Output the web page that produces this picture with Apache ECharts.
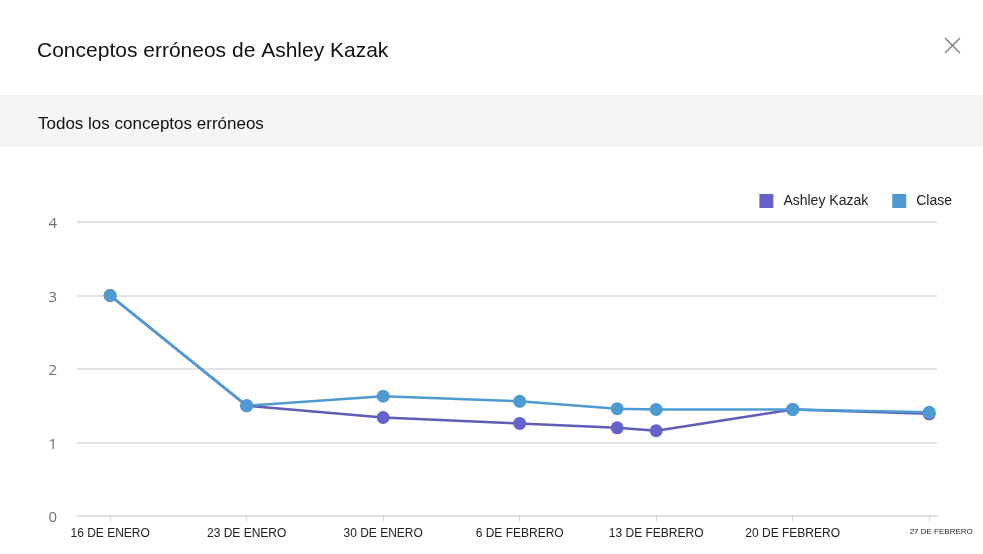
<!DOCTYPE html>
<html>
<head>
<meta charset="utf-8">
<script src="https://cdn.jsdelivr.net/npm/echarts@6/dist/echarts.min.js"></script>
<style>
  html, body { margin: 0; padding: 0; background: #fff; }
  #chart { width: 983px; height: 554px; }
</style>
</head>
<body>
<div id="chart"></div>
<script>
// datos
var fechas = ['2019-01-16', '2019-01-23', '2019-01-30', '2019-02-06', '2019-02-11', '2019-02-13', '2019-02-20', '2019-02-27'];
var ashley = [3.0, 1.5, 1.34, 1.26, 1.20, 1.16, 1.45, 1.39];
var clase = [3.0, 1.5, 1.63, 1.56, 1.46, 1.45, 1.45, 1.41];
var tickFechas = ['2019-01-16', '2019-01-23', '2019-01-30', '2019-02-06', '2019-02-13', '2019-02-20', '2019-02-27'];
var tickLabels = ['16 DE ENERO', '23 DE ENERO', '30 DE ENERO', '6 DE FEBRERO', '13 DE FEBRERO', '20 DE FEBRERO', '27 DE FEBRERO'];
var yTicks = [0, 1, 2, 3, 4];

var DIA = 86400000;
var origen = Date.parse(fechas[0]);
function dia(f) { return Math.round((Date.parse(f) - origen) / DIA); }

var tickDias = tickFechas.map(dia);
function pares(vals) {
    return fechas.map(function (f, i) { return [dia(f), vals[i]]; });
}

var myChart = echarts.init(document.getElementById('chart'));

var option = {
    backgroundColor: '#fff',
    animation: false,
    title: {
        text: 'Conceptos erróneos de Ashley Kazak',
        left: 32,
        top: 36,
        textStyle: { fontFamily: 'Liberation Sans', fontSize: 21, fontWeight: 'normal', color: '#111' }
    },
    graphic: [
        { type: 'rect', left: 0, top: 95, shape: { width: 983, height: 52 }, style: { fill: '#f5f4f7' }, z: -1 },
        { type: 'text', left: 38, top: 116, style: { text: 'Todos los conceptos erróneos', font: '17px "Liberation Sans"', fill: '#111' } },
        { type: 'line', shape: { x1: 945, y1: 38, x2: 960, y2: 53 }, style: { stroke: '#777', lineWidth: 1.3 } },
        { type: 'line', shape: { x1: 960, y1: 38, x2: 945, y2: 53 }, style: { stroke: '#777', lineWidth: 1.3 } }
    ],
    legend: {
        right: 26,
        top: 189,
        itemWidth: 14,
        itemHeight: 14,
        itemGap: 24,
        icon: 'rect',
        textStyle: { fontFamily: 'Liberation Sans', fontSize: 14, color: '#222', padding: [0, 0, 0, 5] },
        data: ['Ashley Kazak', 'Clase']
    },
    grid: { left: 77, right: 46, top: 222, bottom: 38 },
    xAxis: {
        type: 'value',
        min: -1.7,
        max: 42.4,
        axisLine: { lineStyle: { color: '#e1e1e1', width: 2 } },
        axisTick: { show: true, customValues: tickDias, length: 5, lineStyle: { color: '#d8d8d8' } },
        splitLine: { show: false },
        axisLabel: {
            customValues: tickDias,
            margin: 12,
            fontFamily: 'Liberation Sans',
            fontSize: 12,
            color: '#222',
            formatter: function (v) {
                var i = tickDias.indexOf(Math.round(v));
                if (i < 0) return '';
                if (i === tickLabels.length - 1) return '{small|' + tickLabels[i] + '}';
                return tickLabels[i];
            },
            rich: { small: { fontFamily: 'Liberation Sans', fontSize: 8, color: '#222', padding: [0, 0, 2, 24] } }
        }
    },
    yAxis: {
        type: 'value',
        min: yTicks[0],
        max: yTicks[yTicks.length - 1],
        interval: 1,
        axisLine: { show: false },
        axisTick: { show: false },
        splitLine: { lineStyle: { color: '#e3e3e3', width: 2 } },
        axisLabel: { margin: 20, fontFamily: 'Open Sans', fontSize: 15, color: '#6e6e6e', lineHeight: 22, verticalAlign: 'top', padding: [-9, 0, 0, 0] }
    },
    series: [
        {
            name: 'Ashley Kazak',
            type: 'line',
            data: pares(ashley),
            symbol: 'circle',
            symbolSize: 13,
            itemStyle: { color: '#6563c9' },
            lineStyle: { color: '#5f5db6', width: 2.5 }
        },
        {
            name: 'Clase',
            type: 'line',
            data: pares(clase),
            symbol: 'circle',
            symbolSize: 13,
            itemStyle: { color: '#4f9ad1' },
            lineStyle: { color: '#4f9ad1', width: 2.5 }
        }
    ]
};

myChart.setOption(option);
</script>
</body>
</html>
